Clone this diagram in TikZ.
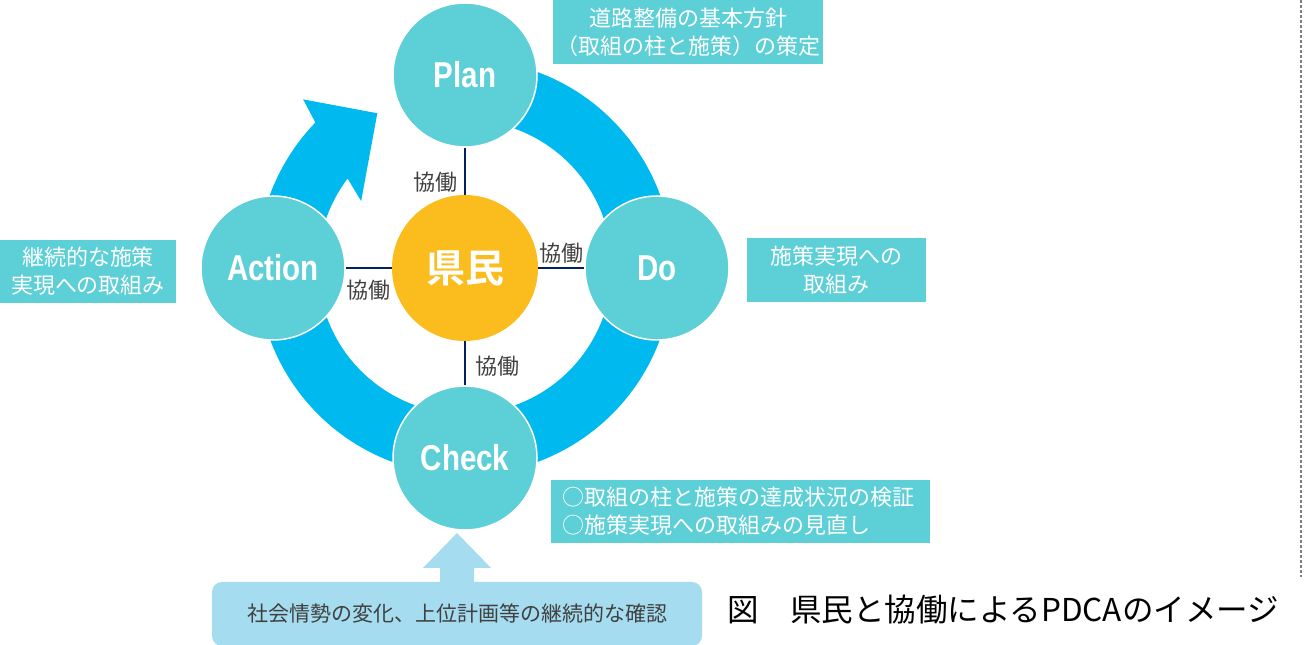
\documentclass[tikz,border=0pt]{standalone}
\usepackage{fontspec}
\setmainfont{Noto Sans CJK JP}[BoldFont={Noto Sans CJK JP Bold}]
\newfontfamily\pdcafont{Liberation Sans}[FakeStretch=0.82]
\definecolor{ringblue}{HTML}{00B9EF}
\definecolor{cteal}{HTML}{5DCFD6}
\definecolor{kyellow}{HTML}{FBBD1E}
\definecolor{navyline}{HTML}{002060}
\definecolor{lblue}{HTML}{A6DCEF}
\definecolor{labgray}{HTML}{404040}
\definecolor{dotgray}{HTML}{808080}
\tikzset{
  pdca/.style={circle, fill=cteal, draw=white, line width=1.5pt, minimum size=144pt, inner sep=0pt, text=white, font=\pdcafont\bfseries\fontsize{36}{36}\selectfont},
  kenmin/.style={circle, fill=kyellow, minimum size=146pt, inner sep=0pt, text=white, font=\bfseries\fontsize{39}{39}\selectfont},
  note/.style={fill=cteal, text=white, inner sep=0pt, font=\fontsize{22}{28}\selectfont, align=center},
  kyodo/.style={text=labgray, inner sep=0pt, font=\fontsize{22}{22}\selectfont},
  link/.style={draw=navyline, line width=2.6pt},
}
\begin{document}
\begin{tikzpicture}[x=1pt,y=1pt]
\useasboundingbox (0,0) rectangle (1304,645);
% ring arrow
\begin{scope}[shift={(465,378)}]
\fill[ringblue] (75:208) arc[start angle=75,end angle=-224,radius=208]
  -- (134:233) -- (119.7:177) -- (147.6:123) -- (143:147)
  arc[start angle=-217,end angle=75,radius=147] -- cycle;
\end{scope}
% circles
\node[pdca] (plan) at (465,570) {Plan};
\node[pdca] (do) at (657,377) {Do};
\node[pdca] (check) at (465,187) {Check};
\node[pdca] (action) at (273,377) {Action};
\node[kenmin] (ken) at (465,377) {県民};
% links
\draw[link] (plan.south) -- (ken.north);
\draw[link] (ken.east) -- (do.west);
\draw[link] (action.east) -- (ken.west);
\draw[link] (ken.south) -- (check.north);
\node[kyodo] (k1) at (435,463) {協働};
\node[kyodo] (k2) at (561,392) {協働};
\node[kyodo] (k3) at (368,355) {協働};
\node[kyodo] (k4) at (497,279) {協働};
% notes
\node[note, minimum width=270pt, minimum height=64pt] (nplan) at (688,613) {道路整備の基本方針\\（取組の柱と施策）の策定};
\node[note, minimum width=179pt, minimum height=64pt] (ndo) at (836.5,375) {施策実現への\\取組み};
\node[note, minimum width=176pt, minimum height=63pt] (nact) at (88,373.5) {継続的な施策\\実現への取組み};
\node[note, align=left, text width=357pt, inner xsep=11pt, minimum height=63pt] (ncheck) at (740.5,133.5) {○取組の柱と施策の達成状況の検証\\○施策実現への取組みの見直し};
% bottom box and arrow
\node[fill=lblue, rounded corners=10pt, minimum width=490pt, minimum height=64pt, inner sep=0pt, text=labgray, font=\fontsize{21}{21}\selectfont] (env) at (457,31) {社会情勢の変化、上位計画等の継続的な確認};
\fill[lblue] (440,62) -- (440,77) -- (423,77) -- (457,112) -- (491,77) -- (474,77) -- (474,62) -- cycle;
% caption
\node[inner sep=0pt, font=\fontsize{31.5}{31.5}\selectfont] (cap) at (1003,35) {図　県民と協働によるPDCAのイメージ};
% dotted separator
\coordinate (d1) at (1301,645);
\coordinate (d2) at (1301,68);
\draw[dotgray, line width=2pt, dash pattern=on 3pt off 2pt] (d1) -- (d2);
\end{tikzpicture}
\end{document}
